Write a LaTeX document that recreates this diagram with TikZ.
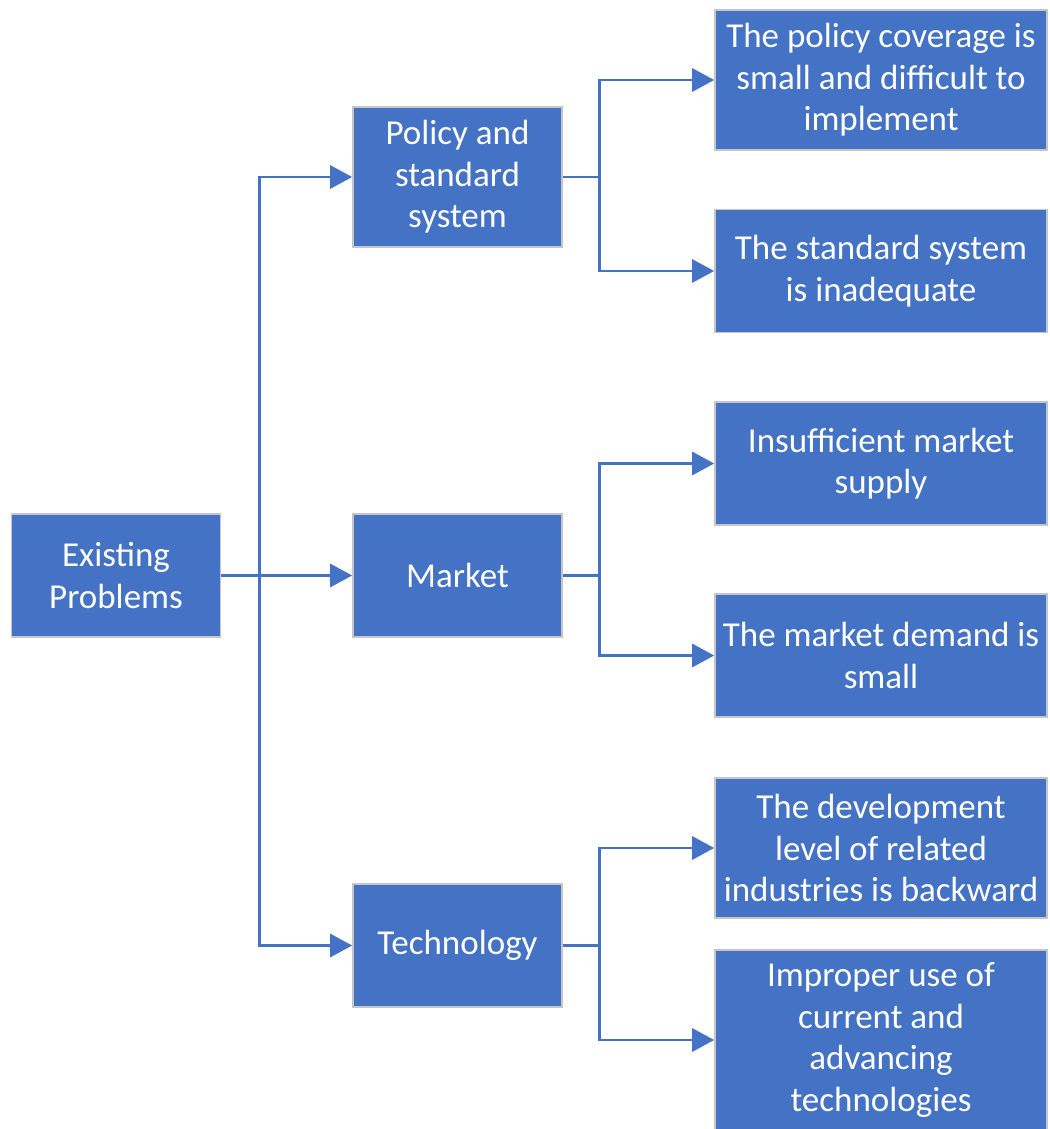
\documentclass[tikz,border=0pt]{standalone}
\usepackage{fontspec}
\setmainfont{Carlito}
\usetikzlibrary{arrows.meta}
\definecolor{boxblue}{HTML}{4472C4}
\begin{document}
\begin{tikzpicture}[x=0.5pt,y=-0.5pt,
  box/.style={draw=gray!45,line width=0.8pt,fill=boxblue,text=white,align=center,
    inner sep=0pt,font=\fontsize{17.5}{20.8}\selectfont},
  mid/.style={box,minimum width=104.5pt,minimum height=61.5pt},
  leaf/.style={box,minimum width=166pt,minimum height=61.5pt},
  link/.style={draw=boxblue,line width=1.4pt,-{Triangle[length=11pt,width=11.5pt]}}]
\useasboundingbox (0,0) rectangle (1049,1129);

\node[mid] (ex) at (116,575.5) {Existing\\Problems};
\node[mid,minimum height=70pt] (pol) at (457.5,177) {Policy and\\standard\\system};
\node[mid] (mkt) at (457.5,575.5) {Market};
\node[mid] (tec) at (457.5,945.5) {Technology};

\node[leaf,minimum height=70pt] (r1) at (881,80) {The policy coverage is\\small and difficult to\\implement};
\node[leaf] (r2) at (881,271) {The standard system\\is inadequate};
\node[leaf] (r3) at (881,463.5) {Insufficient market\\supply};
\node[leaf] (r4) at (881,655.5) {The market demand is\\small};
\node[leaf,minimum height=70pt] (r5) at (881,848) {The development\\level of related\\industries is backward};
\node[leaf,minimum height=90pt] (r6) at (881,1040) {Improper use of\\current and\\advancing\\technologies};

\draw[link] (ex.east) -- ++(38,0) |- (pol.west);
\draw[link] (ex.east) -- (mkt.west);
\draw[link] (ex.east) -- ++(38,0) |- (tec.west);
\foreach \a/\b in {pol/r1,pol/r2,mkt/r3,mkt/r4,tec/r5,tec/r6}
  \draw[link] (\a.east) -- ++(37,0) |- (\b.west);
\end{tikzpicture}
\end{document}
